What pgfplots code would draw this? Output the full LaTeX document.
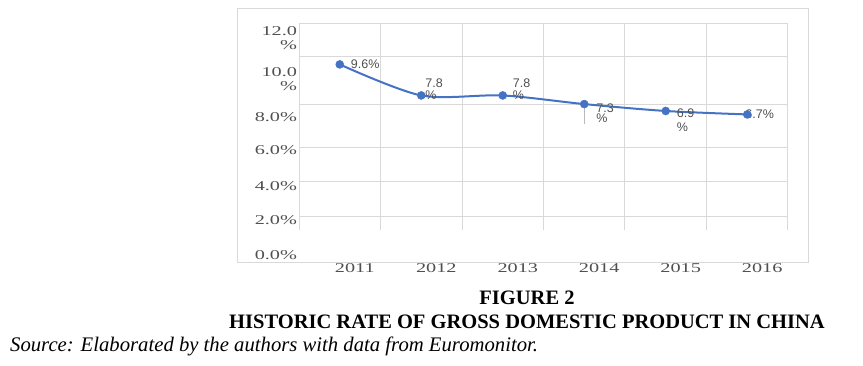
\documentclass[border=0pt]{standalone}
\usepackage{fontspec}
\setmainfont{Liberation Serif}
\newfontfamily\tickfont[FakeStretch=1.5]{Liberation Serif}
\newfontfamily\lblfont{Liberation Sans}
\usepackage{pgfplots}
\pgfplotsset{compat=1.18}
\definecolor{gridgray}{HTML}{D9D9D9}
\definecolor{txtgray}{HTML}{505050}
\definecolor{lineblue}{HTML}{4472C4}
\begin{document}
\begin{tikzpicture}
\path[use as bounding box] (0,0) rectangle (863pt,-365pt);
\draw[gridgray, line width=1pt] (237pt,-8pt) rectangle (808pt,-262pt);
\begin{axis}[
  at={(299pt,-230pt)}, anchor=south west,
  scale only axis, width=489pt, height=207pt,
  xmin=-0.5, xmax=5.5, ymin=0, ymax=12,
  axis line style={draw=none},
  major tick length=0pt,
  xtick={0,1,2,3,4,5},
  xticklabels={2011,2012,2013,2014,2015,2016},
  xticklabel style={font=\tickfont\fontsize{13.5}{15}\selectfont, text=txtgray, anchor=center, xshift=15pt, yshift=-38pt},
  extra x ticks={-0.5,0.5,1.5,2.5,3.5,4.5,5.5},
  extra x tick labels={},
  extra x tick style={grid=major, major grid style={gridgray, line width=1pt}},
  ytick={11.13,8.72,6.55,4.64,2.55,0.58},
  yticklabels={{12.0\\\%},{10.0\\\%},{8.0\%},{6.0\%},{4.0\%},{2.0\%}},
  yticklabel style={font=\tickfont\fontsize{13.5}{14}\selectfont, text=txtgray, align=right, anchor=east, xshift=1.5pt},
  extra y ticks={0.81,2.84,4.81,7.30,10.03,12},
  extra y tick labels={},
  extra y tick style={grid=major, major grid style={gridgray, line width=1pt}},
  clip=false,
]
\draw[gray!55, line width=1pt] (axis cs:3,7.3) -- (axis cs:3,6.14);
\addplot[lineblue, line width=2pt, smooth, tension=0.5, mark=*, mark size=4pt,
  mark options={solid, line width=0.5pt, fill=lineblue, draw=lineblue}]
  coordinates {(0,9.6) (1,7.8) (2,7.8) (3,7.3) (4,6.9) (5,6.7)};
\node[anchor=east, font=\tickfont\fontsize{13.5}{13}\selectfont, text=txtgray, xshift=1.5pt] at (axis cs:-0.5,-1.45) {0.0\%};
\tikzset{dl/.style={font=\lblfont\fontsize{12.5}{12}\selectfont, text=txtgray, anchor=west, inner sep=0pt, align=left}}
\node[dl, xshift=11pt] at (axis cs:0,9.6) {9.6\%};
\node[dl, xshift=4pt, yshift=6pt] at (axis cs:1,7.8) {7.8\\\%};
\node[dl, xshift=10pt, yshift=6pt] at (axis cs:2,7.8) {7.8\\\%};
\node[dl, xshift=12pt, yshift=-9.5pt, font=\lblfont\fontsize{12.5}{10}\selectfont] at (axis cs:3,7.3) {7.3\\\%};
\node[dl, xshift=11pt, yshift=-9pt, font=\lblfont\fontsize{12.5}{14}\selectfont] at (axis cs:4,6.9) {6.9\\\%};
\node[dl, xshift=-2pt] at (axis cs:5,6.7) {6.7\%};
\end{axis}
\node[font=\bfseries\fontsize{20.5}{22}\selectfont] at (527pt,-298pt) {FIGURE 2};
\node[font=\bfseries\fontsize{20.5}{22}\selectfont] at (527pt,-322pt) {HISTORIC RATE OF GROSS DOMESTIC PRODUCT IN CHINA};
\node[font=\itshape\fontsize{20.7}{22}\selectfont, anchor=west, inner sep=0pt] at (10pt,-346pt) {Source: Elaborated by the authors with data from Euromonitor.};
\end{tikzpicture}
\end{document}
